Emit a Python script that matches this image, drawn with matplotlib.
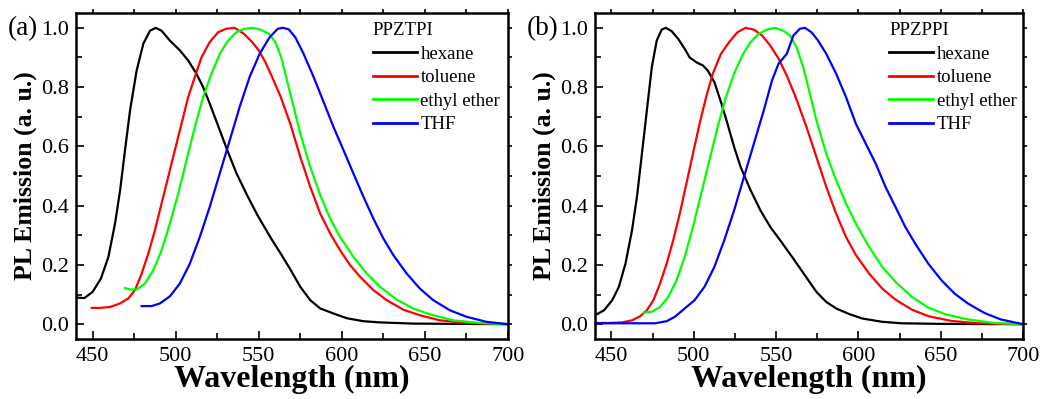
import matplotlib
matplotlib.use("Agg")
import matplotlib.pyplot as plt
from matplotlib.ticker import MultipleLocator

plt.rcParams['font.family'] = ['Liberation Serif', 'DejaVu Serif']
plt.rcParams['mathtext.fontset'] = 'stix'

solvents = ["hexane", "toluene", "ethyl ether", "THF"]
colors = ["#000000", "#FF0000", "#00FF00", "#0000FF"]
panel_labels = ["(a)", "(b)"]
compounds = ["PPZTPI", "PPZPPI"]
x_ticks = [450, 500, 550, 600, 650, 700]
y_ticks = [0.0, 0.2, 0.4, 0.6, 0.8, 1.0]

# ---- Panel (a): PPZTPI ----
a_hex_x = [440, 445, 450, 455, 459.5, 463.5, 466.5, 469.5, 472.5, 476.5, 480.5, 484.5, 488, 491.5, 496.5,
           502.5, 507.5, 512.5, 516.5, 520.5, 525.5, 530.5, 536.5, 543, 549, 557, 563, 569, 575, 581, 587,
           595, 603, 613, 623, 643, 670, 700]
a_hex_y = [0.09, 0.088, 0.109, 0.154, 0.227, 0.34, 0.45, 0.587, 0.72, 0.856, 0.946, 0.99, 1.0, 0.99, 0.957,
           0.924, 0.89, 0.845, 0.80, 0.744, 0.67, 0.595, 0.51, 0.435, 0.37, 0.293, 0.24, 0.185, 0.126, 0.081,
           0.053, 0.036, 0.02, 0.01, 0.006, 0.002, 0.001, 0.0]

a_tol_x = [449.5, 454.5, 460.5, 466.5, 471.5, 475.5, 479.5, 483.5, 487.5, 491.5, 495.5, 499.5, 503.5, 507.5,
           511.5, 515.5, 520.5, 525.5, 530.5, 535.5, 541, 546, 550, 554, 558, 563, 569, 575, 581, 587, 593,
           599, 605, 611, 619, 627, 637, 647, 659, 673, 700]
a_tol_y = [0.055, 0.055, 0.058, 0.07, 0.087, 0.115, 0.17, 0.238, 0.317, 0.407, 0.497, 0.587, 0.676, 0.766,
           0.834, 0.90, 0.952, 0.985, 0.997, 1.0, 0.98, 0.952, 0.924, 0.884, 0.834, 0.77, 0.676, 0.564, 0.463,
           0.373, 0.306, 0.249, 0.199, 0.16, 0.115, 0.081, 0.049, 0.030, 0.013, 0.005, 0.0]

a_eth_x = [469.5, 472.5, 476.5, 481.5, 486.5, 491.5, 496.5, 501.5, 506.5, 511.5, 516.5, 521.5, 526.5, 531.5,
           536.5, 541.5, 546, 551, 556, 560, 563.5, 567, 571, 575, 581, 587, 593, 599, 607, 615, 623, 633,
           643, 653, 667, 683, 700]
a_eth_y = [0.122, 0.117, 0.117, 0.137, 0.182, 0.249, 0.34, 0.44, 0.553, 0.665, 0.766, 0.845, 0.912, 0.957,
           0.985, 0.997, 1.0, 0.994, 0.98, 0.952, 0.90, 0.822, 0.733, 0.643, 0.53, 0.435, 0.356, 0.294, 0.227,
           0.171, 0.126, 0.083, 0.053, 0.033, 0.013, 0.004, 0.0]

a_thf_x = [479.5, 485.5, 490.5, 496.5, 502.5, 508.5, 514.5, 520.5, 526.5, 532.5, 538.5, 544.5, 550.5, 556.5,
           561.5, 564.5, 568, 572, 577, 583, 589, 595, 601, 607, 613, 619, 625, 631, 639, 647, 655, 665, 675,
           687, 700]
a_thf_y = [0.061, 0.061, 0.07, 0.094, 0.137, 0.204, 0.294, 0.396, 0.508, 0.62, 0.733, 0.834, 0.912, 0.968,
           0.997, 1.0, 0.995, 0.968, 0.912, 0.834, 0.75, 0.665, 0.587, 0.508, 0.43, 0.356, 0.289, 0.233, 0.171,
           0.12, 0.081, 0.047, 0.025, 0.008, 0.0]

# ---- Panel (b): PPZPPI ----
b_hex_x = [440, 445.5, 450.5, 454.5, 458.5, 462.5, 465.5, 468.5, 471.5, 474.5, 477.5, 480.5, 483, 486.5, 490.5,
           494.5, 497.5, 501.5, 505.5, 508.5, 512.5, 516.5, 520.5, 524.5, 528.5, 534.5, 540.5, 546.5, 552.5,
           560.5, 567.5, 574.5, 580.5, 586.5, 594.5, 602.5, 614.5, 626.5, 650, 700]
b_hex_y = [0.03, 0.047, 0.081, 0.126, 0.204, 0.317, 0.43, 0.575, 0.721, 0.867, 0.957, 0.994, 1.0, 0.989, 0.963,
           0.929, 0.90, 0.884, 0.873, 0.856, 0.817, 0.75, 0.676, 0.598, 0.53, 0.452, 0.384, 0.328, 0.283,
           0.221, 0.165, 0.109, 0.075, 0.053, 0.034, 0.019, 0.008, 0.003, 0.001, 0.0]

b_tol_x = [440, 448.5, 456.5, 462.5, 467.5, 471.5, 475.5, 479.5, 483.5, 487.5, 491.5, 495.5, 499.5, 503.5,
           507.5, 511.5, 516.5, 521.5, 526.5, 531.5, 536.5, 541.5, 546.5, 551.5, 556.5, 561.5, 568.5, 574.5,
           580.5, 586.5, 592.5, 598.5, 606.5, 614.5, 622.5, 632.5, 642.5, 656.5, 672.5, 700]
b_tol_y = [0.004, 0.004, 0.006, 0.013, 0.027, 0.047, 0.081, 0.137, 0.204, 0.283, 0.373, 0.474, 0.575, 0.676,
           0.766, 0.845, 0.912, 0.952, 0.985, 1.0, 0.994, 0.974, 0.94, 0.896, 0.839, 0.772, 0.665, 0.564,
           0.463, 0.373, 0.294, 0.233, 0.171, 0.12, 0.083, 0.049, 0.027, 0.011, 0.003, 0.0]

b_eth_x = [469.5, 474.5, 479.5, 484.5, 489.5, 494.5, 499.5, 504.5, 509.5, 514.5, 519.5, 524.5, 529.5, 534.5,
           539.5, 544.5, 549.5, 554.5, 558.5, 562.5, 566.5, 570.5, 574.5, 580.5, 586.5, 592.5, 598.5, 606.5,
           614.5, 622.5, 632.5, 642.5, 652.5, 666.5, 682.5, 700]
b_eth_y = [0.039, 0.042, 0.058, 0.092, 0.148, 0.227, 0.328, 0.44, 0.553, 0.665, 0.766, 0.845, 0.907, 0.952,
           0.98, 0.994, 1.0, 0.99, 0.974, 0.934, 0.867, 0.778, 0.688, 0.575, 0.486, 0.407, 0.339, 0.261,
           0.193, 0.143, 0.092, 0.056, 0.034, 0.016, 0.004, 0.0]

b_thf_x = [440, 456.5, 476.5, 483.5, 488.5, 494.5, 500.5, 506.5, 512.5, 518.5, 524.5, 530.5, 536.5, 542.5,
           547.5, 551.5, 556.5, 560.5, 564.5, 567.5, 571.5, 575.5, 580.5, 586.5, 592.5, 598.5, 604.5, 610.5,
           616.5, 622.5, 628.5, 634.5, 642.5, 650.5, 658.5, 666.5, 676.5, 686.5, 700]
b_thf_y = [0.003, 0.003, 0.003, 0.01, 0.025, 0.053, 0.081, 0.126, 0.193, 0.283, 0.384, 0.497, 0.609, 0.721,
           0.822, 0.879, 0.912, 0.974, 0.997, 1.0, 0.985, 0.957, 0.912, 0.845, 0.766, 0.676, 0.609, 0.542,
           0.463, 0.396, 0.328, 0.272, 0.204, 0.148, 0.103, 0.07, 0.038, 0.016, 0.0]

panels = [
    [(a_hex_x, a_hex_y), (a_tol_x, a_tol_y), (a_eth_x, a_eth_y), (a_thf_x, a_thf_y)],
    [(b_hex_x, b_hex_y), (b_tol_x, b_tol_y), (b_eth_x, b_eth_y), (b_thf_x, b_thf_y)],
]

W, H = 1049, 399
fig = plt.figure(figsize=(W / 100, H / 100), dpi=100)

boxes = [(76, 13, 508, 339), (595, 13, 1023, 339)]
label_x = [8, 527]

for i, (series, box) in enumerate(zip(panels, boxes)):
    l, t, r, b = box
    ax = fig.add_axes([l / W, 1 - b / H, (r - l) / W, (b - t) / H])
    for (xs, ys), c, name in zip(series, colors, solvents):
        ax.plot(xs, ys, color=c, lw=1.6, label=name, solid_joinstyle='round')
    ax.set_xlim(440, 700)
    ax.set_ylim(-0.05, 1.05)
    ax.set_xticks(x_ticks)
    ax.set_yticks(y_ticks)
    ax.set_yticklabels([f"{v:.1f}" for v in y_ticks])
    ax.xaxis.set_minor_locator(MultipleLocator(25))
    ax.yaxis.set_minor_locator(MultipleLocator(0.1))
    ax.tick_params(axis='both', which='both', direction='in', labelsize=16, width=1.2)
    ax.tick_params(axis='both', which='major', length=6)
    ax.tick_params(axis='both', which='minor', length=4)
    ax.tick_params(axis='x', which='both', pad=6)
    ax.tick_params(axis='y', which='both', pad=5)
    # outward ticks on top and right
    sx = ax.secondary_xaxis('top')
    sx.set_xticks(x_ticks)
    sx.xaxis.set_minor_locator(MultipleLocator(25))
    sx.tick_params(which='both', direction='out', length=3, width=1.2, labeltop=False)
    sy = ax.secondary_yaxis('right')
    sy.set_yticks(y_ticks)
    sy.yaxis.set_minor_locator(MultipleLocator(0.1))
    sy.tick_params(which='both', direction='out', length=3, width=1.2, labelright=False)
    for s in ax.spines.values():
        s.set_linewidth(1.8)
    for s in list(sx.spines.values()) + list(sy.spines.values()):
        s.set_visible(False)
    ax.set_xlabel("Wavelength (nm)", fontsize=23, fontweight='bold', labelpad=-1)
    ax.set_ylabel("PL Emission (a. u.)", fontsize=18.5, fontweight='bold', labelpad=3)
    leg = ax.legend(title=compounds[i], loc='upper left', bbox_to_anchor=(0.665, 1.0),
                    frameon=False, fontsize=13.5, title_fontsize=13.5, alignment='left',
                    handlelength=2.35, handletextpad=0.2, labelspacing=0.34,
                    borderaxespad=0.2, borderpad=0.3)
    for ln in leg.get_lines():
        ln.set_linewidth(2.0)
    fig.text(label_x[i] / W, 1 - 29 / H, panel_labels[i], fontsize=19.5, ha='left', va='center')

fig.savefig("out.png", dpi=100)
